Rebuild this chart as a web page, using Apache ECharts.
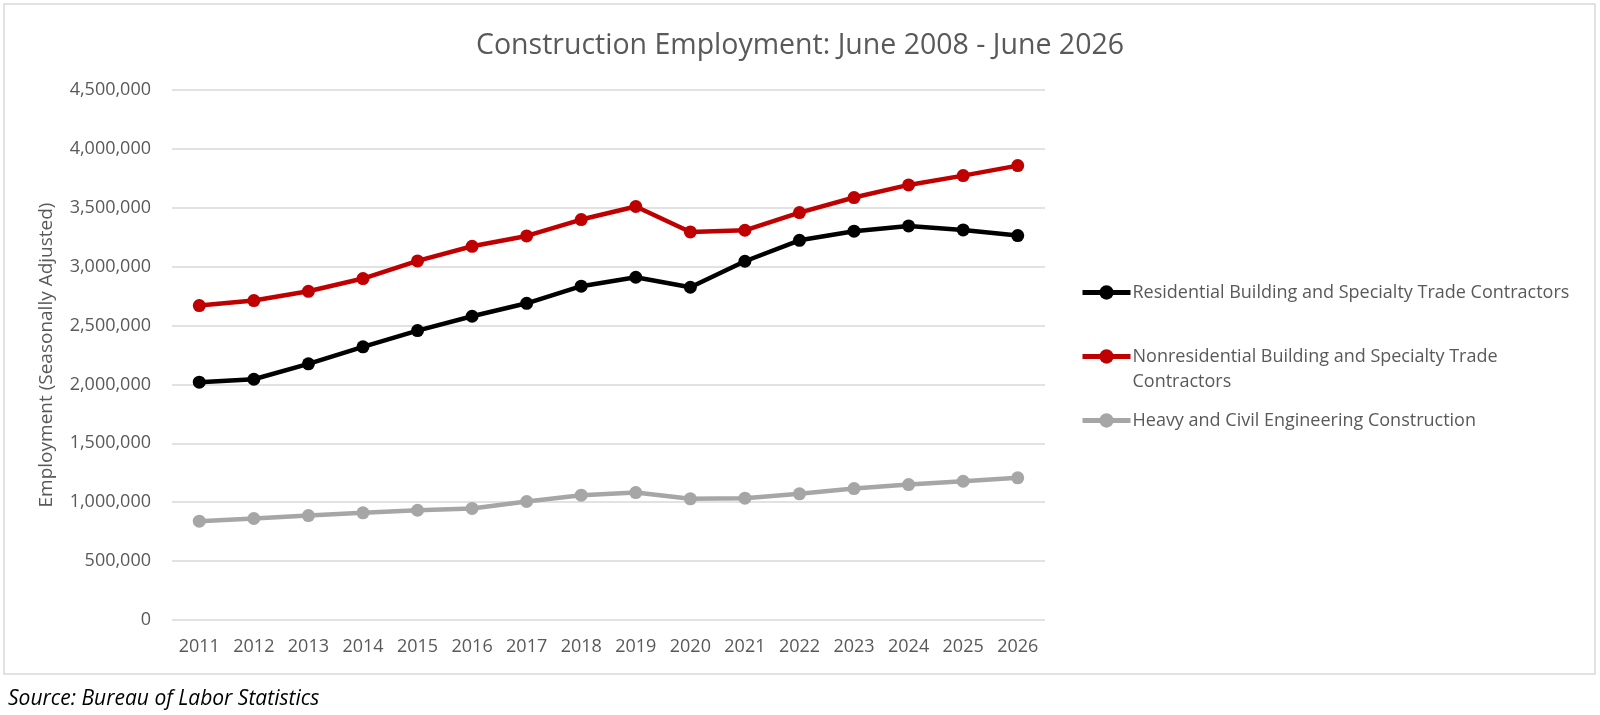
<!DOCTYPE html>
<html>
<head>
<meta charset="utf-8">
<script src="https://cdn.jsdelivr.net/npm/echarts@6/dist/echarts.min.js"></script>
<style>
  html, body { margin: 0; padding: 0; background: #fff; }
  #chart { width: 1600px; height: 715px; }
</style>
</head>
<body>
<div id="chart"></div>
<script>
/* data */
var years = ['2011', '2012', '2013', '2014', '2015', '2016', '2017', '2018',
    '2019', '2020', '2021', '2022', '2023', '2024', '2025', '2026'];
var residential = [2019000, 2044000, 2175000, 2319000, 2457000, 2579000, 2689000, 2834000,
    2910000, 2825000, 3046000, 3224000, 3301000, 3346000, 3312000, 3264000];
var nonresidential = [2670000, 2712000, 2791000, 2899000, 3049000, 3173000, 3261000, 3400000,
    3511000, 3295000, 3309000, 3459000, 3587000, 3694000, 3773000, 3858000];
var heavyCivil = [839000, 862000, 887000, 910000, 932000, 947000, 1006000, 1060000,
    1082000, 1029000, 1034000, 1071000, 1116000, 1150000, 1178000, 1207000];
var seriesNames = [
    'Residential Building and Specialty Trade Contractors',
    'Nonresidential Building and Specialty Trade Contractors',
    'Heavy and Civil Engineering Construction'
];

var textColor = '#595959';
var fontName = 'Open Sans';

function lineSeries(name, data, color) {
    return {
        name: name,
        type: 'line',
        data: data,
        symbol: 'circle',
        symbolSize: 13,
        lineStyle: { color: color, width: 4.5 },
        itemStyle: { color: color },
        animation: false
    };
}

var chart = echarts.init(document.getElementById('chart'));
var option = {
    backgroundColor: '#fff',
    textStyle: { fontFamily: fontName },
    title: {
        text: 'Construction Employment: June 2008 - June 2026',
        left: 'center',
        top: 26,
        textStyle: { fontFamily: fontName, fontSize: 28.5, fontWeight: 'normal', color: textColor }
    },
    grid: { left: 172, right: 555, top: 90, bottom: 95 },
    legend: {
        orient: 'vertical',
        left: 1080,
        top: 280,
        padding: 0,
        itemGap: 14,
        itemWidth: 48,
        itemHeight: 18,
        data: seriesNames,
        lineStyle: { width: 5 },
        formatter: function (name) {
            if (name === seriesNames[1]) {
                return ' \nNonresidential Building and Specialty Trade\nContractors';
            }
            return name;
        },
        textStyle: { fontFamily: fontName, fontSize: 18, color: textColor, lineHeight: 25, padding: [0, 0, 0, -3] }
    },
    xAxis: {
        type: 'category',
        data: years,
        boundaryGap: true,
        axisLine: { show: false },
        axisTick: { show: false },
        axisLabel: { fontFamily: fontName, fontSize: 18, color: textColor, margin: 18 }
    },
    yAxis: {
        type: 'value',
        min: 0,
        max: 4500000,
        interval: 500000,
        name: 'Employment (Seasonally Adjusted)',
        nameLocation: 'middle',
        nameGap: 116,
        nameTextStyle: { fontFamily: fontName, fontSize: 19, color: textColor },
        axisLine: { show: false },
        axisTick: { show: false },
        splitLine: { lineStyle: { color: '#D9D9D9', width: 1.5 } },
        axisLabel: {
            fontFamily: fontName, fontSize: 18, color: textColor, margin: 21,
            formatter: function (v) { return v.toLocaleString('en-US'); }
        }
    },
    graphic: [
        {
            type: 'rect',
            shape: { x: 4, y: 4, width: 1591, height: 670 },
            style: { fill: 'none', stroke: '#D9D9D9', lineWidth: 1.5 },
            silent: true
        },
        {
            type: 'text',
            left: 8,
            top: 689,
            style: {
                text: 'Source: Bureau of Labor Statistics',
                fontFamily: fontName, fontSize: 21, fontStyle: 'italic', fill: '#000'
            }
        }
    ],
    series: [
        lineSeries(seriesNames[0], residential, '#000000'),
        lineSeries(seriesNames[1], nonresidential, '#C00000'),
        lineSeries(seriesNames[2], heavyCivil, '#A6A6A6')
    ]
};
chart.setOption(option);
</script>
</body>
</html>
